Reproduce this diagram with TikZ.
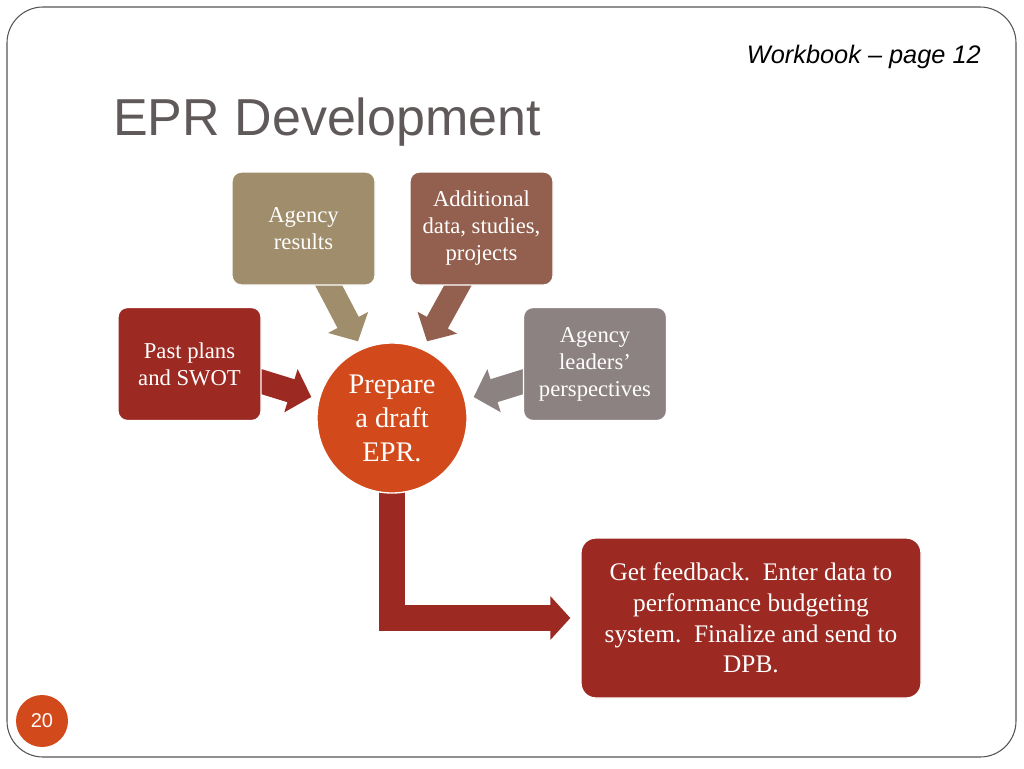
\documentclass[tikz,border=0pt]{standalone}
\usepackage{fontspec}
\setmainfont{Liberation Serif}
\newfontfamily\sansf{Liberation Sans}
\usetikzlibrary{arrows.meta,calc,backgrounds}
\definecolor{tanc}{HTML}{A08D6B}
\definecolor{brownc}{HTML}{935F4E}
\definecolor{redc}{HTML}{9C2A22}
\definecolor{grayc}{HTML}{8C8282}
\definecolor{orangec}{HTML}{D24A1B}
\definecolor{titlec}{HTML}{5F5959}
\definecolor{framec}{HTML}{555555}
\tikzset{
  box/.style={rectangle, rounded corners=7pt, minimum width=107.25pt, minimum height=84.75pt,
    text=white, align=center, font=\fontsize{17}{20.25}\selectfont, draw=white, line width=1pt, inner sep=2pt},
  bigbox/.style={rectangle, rounded corners=11pt, minimum width=255pt, minimum height=120pt,
    text=white, align=center, font=\fontsize{19}{23}\selectfont, draw=white, line width=1pt},
  hub/.style={circle, minimum size=112.5pt, inner sep=0pt, text=white, align=center,
    font=\fontsize{21.3}{25.5}\selectfont, fill=orangec, draw=white, line width=1pt},
  blk/.style={line width=18pt, -{Triangle[length=16pt,width=33pt]}},
}
\begin{document}
\begin{tikzpicture}[x=0.75pt,y=-0.75pt]
\useasboundingbox (0,0) rectangle (1024,768);
\draw[framec, line width=0.8pt, rounded corners=27pt] (7,7) rectangle (1016,757);

\node[anchor=base east, inner sep=0pt, font=\sansf\itshape\fontsize{19}{21}\selectfont] (wb) at (981,63) {Workbook – page 12};
\node[anchor=base west, inner sep=0pt, text=titlec, font=\sansf\fontsize{39}{44}\selectfont] (title) at (113,135) {EPR Development};

\node[circle, fill=orangec, minimum size=39pt, inner sep=0pt, text=white, font=\sansf\fontsize{15}{17}\selectfont] (pg) at (42,721) {20};

\node[box, fill=tanc] (ag) at (303.5,228.5) {Agency\\results};
\node[box, fill=brownc] (add) at (481.5,228.5) {Additional\\data, studies,\\projects};
\node[box, fill=redc] (past) at (189.5,364) {Past plans\\and SWOT};
\node[box, fill=grayc] (lead) at (595,364) {Agency\\leaders'\\perspectives};
\node[hub] (prep) at (392,418) {Prepare\\a draft\\EPR.};
\node[bigbox, fill=redc] (fb) at (751,618) {Get feedback.\ \ Enter data to\\performance budgeting\\system.\ \ Finalize and send to\\DPB.};

\begin{scope}[on background layer]
\draw[blk, tanc] ($(ag.south)+(18,-14)$) -- ($(prep.north)+(-34,-1)$);
\draw[blk, brownc] ($(add.south)+(-16,-14)$) -- ($(prep.north)+(35,-1)$);
\draw[blk, redc] ($(past.east)+(-12,14)$) -- ($(prep.west)+(-5,-21)$);
\draw[blk, grayc] ($(lead.west)+(12,14)$) -- ($(prep.east)+(6,-21)$);
\draw[line width=19.5pt, redc, -{Triangle[length=15pt,width=32pt]}, shorten >=7.5pt]
  (prep.center) -- (prep.center |- fb.west) -- (fb.west);
\end{scope}
\end{tikzpicture}
\end{document}
